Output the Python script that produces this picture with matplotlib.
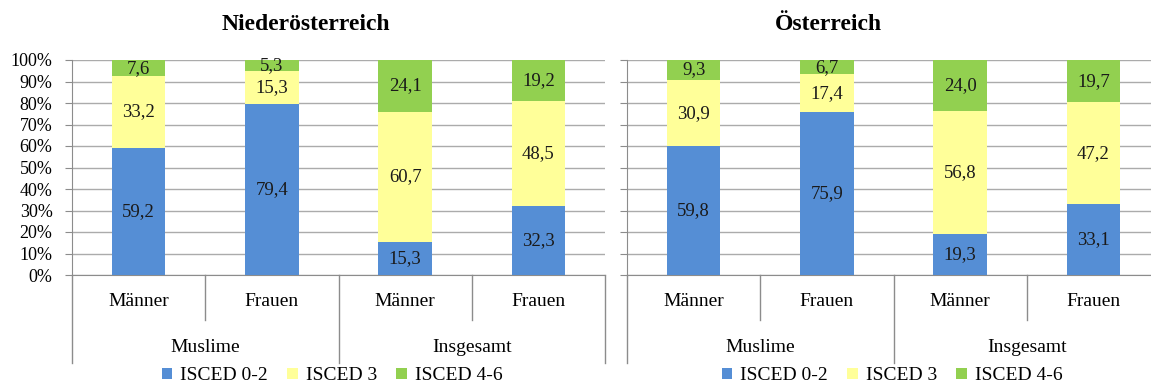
import matplotlib
matplotlib.use("Agg")
import matplotlib.pyplot as plt
from matplotlib.patches import Patch
import numpy as np

plt.rcParams['font.family'] = ['Liberation Serif', 'DejaVu Serif']

# Data (percent shares by education level)
categories = ["Männer", "Frauen", "Männer", "Frauen"]
groups = ["Muslime", "Insgesamt"]
series_names = ["ISCED 0-2", "ISCED 3", "ISCED 4-6"]

noe_isced_0_2 = [59.2, 79.4, 15.3, 32.3]
noe_isced_3 = [33.2, 15.3, 60.7, 48.5]
noe_isced_4_6 = [7.6, 5.3, 24.1, 19.2]

oe_isced_0_2 = [59.8, 75.9, 19.3, 33.1]
oe_isced_3 = [30.9, 17.4, 56.8, 47.2]
oe_isced_4_6 = [9.3, 6.7, 24.0, 19.7]

panel_titles = ["Niederösterreich", "Österreich"]
ytick_labels = [f"{v}%" for v in range(0, 101, 10)]

colors = ["#558ED5", "#FFFF99", "#92D050"]
grid_color = "#ABABAB"
axis_color = "#8C8C8C"

W, H = 1151, 385
fig = plt.figure(figsize=(W / 100, H / 100), dpi=100)


def fx(px):
    return px / W


def fy(py):
    return 1 - py / H


panels = [
    (72, 605, [noe_isced_0_2, noe_isced_3, noe_isced_4_6], True, 306, 332),
    (627, 1160, [oe_isced_0_2, oe_isced_3, oe_isced_4_6], False, 828, 892),
]

top_px, bot_px = 60, 275

for (x0, x1, data, show_labels, title_x, legend_x), title in zip(panels, panel_titles):
    ax = fig.add_axes([fx(x0), fy(bot_px), fx(x1) - fx(x0), fy(top_px) - fy(bot_px)])
    x = np.arange(len(categories))
    bottom = np.zeros(len(categories))
    for vals, c in zip(data, colors):
        vals = np.array(vals)
        ax.bar(x, vals, bottom=bottom, width=0.4, color=c, zorder=3)
        for xi, b, v in zip(x, bottom, vals):
            ax.text(xi, b + v / 2, f"{v:.1f}".replace(".", ","), ha="center",
                    va="center", fontsize=13.5, color="#1a1a1a", zorder=4)
        bottom = bottom + vals

    ax.set_xlim(-0.5, len(categories) - 0.5)
    ax.set_ylim(0, 100)
    ax.set_yticks(range(0, 101, 10))
    ax.set_yticklabels(ytick_labels if show_labels else [])
    ax.tick_params(axis="y", length=5, color=axis_color, labelsize=13, pad=9)
    ax.yaxis.grid(True, color=grid_color, linewidth=1.0, zorder=0)
    ax.set_axisbelow(True)
    for s in ["top", "right"]:
        ax.spines[s].set_visible(False)
    ax.spines["left"].set_color(axis_color)
    ax.spines["bottom"].set_color(axis_color)

    # Two-level category axis drawn below the plot
    ax.set_xticks([])
    trans = ax.get_xaxis_transform()
    inner_depth = -(320 - bot_px) / (bot_px - top_px)
    outer_depth = -(363 - bot_px) / (bot_px - top_px)
    for b in [-0.5, 1.5, 3.5]:
        ax.plot([b, b], [0, outer_depth], transform=trans, color=axis_color,
                lw=1.0, clip_on=False)
    for b in [0.5, 2.5]:
        ax.plot([b, b], [0, inner_depth], transform=trans, color=axis_color,
                lw=1.0, clip_on=False)
    lab_y = -(302 - bot_px) / (bot_px - top_px)
    grp_y = -(347 - bot_px) / (bot_px - top_px)
    for xi, lab in zip(x, categories):
        ax.text(xi, lab_y, lab, transform=trans, ha="center", va="center",
                fontsize=14)
    for gi, g in enumerate(groups):
        ax.text(gi * 2 + 0.5, grp_y, g, transform=trans, ha="center",
                va="center", fontsize=14)

    fig.text(fx(title_x), fy(25), title, ha="center", va="center",
             fontsize=17, fontweight="bold")

    handles = [Patch(facecolor=c, edgecolor="none") for c in colors]
    fig.legend(handles, series_names, loc="center", ncol=3,
               bbox_to_anchor=(fx(legend_x), fy(376)), frameon=False,
               fontsize=14, handlelength=0.55, handleheight=0.55,
               handletextpad=0.4, columnspacing=1.0, borderpad=0)

fig.savefig("out.png", dpi=100)
